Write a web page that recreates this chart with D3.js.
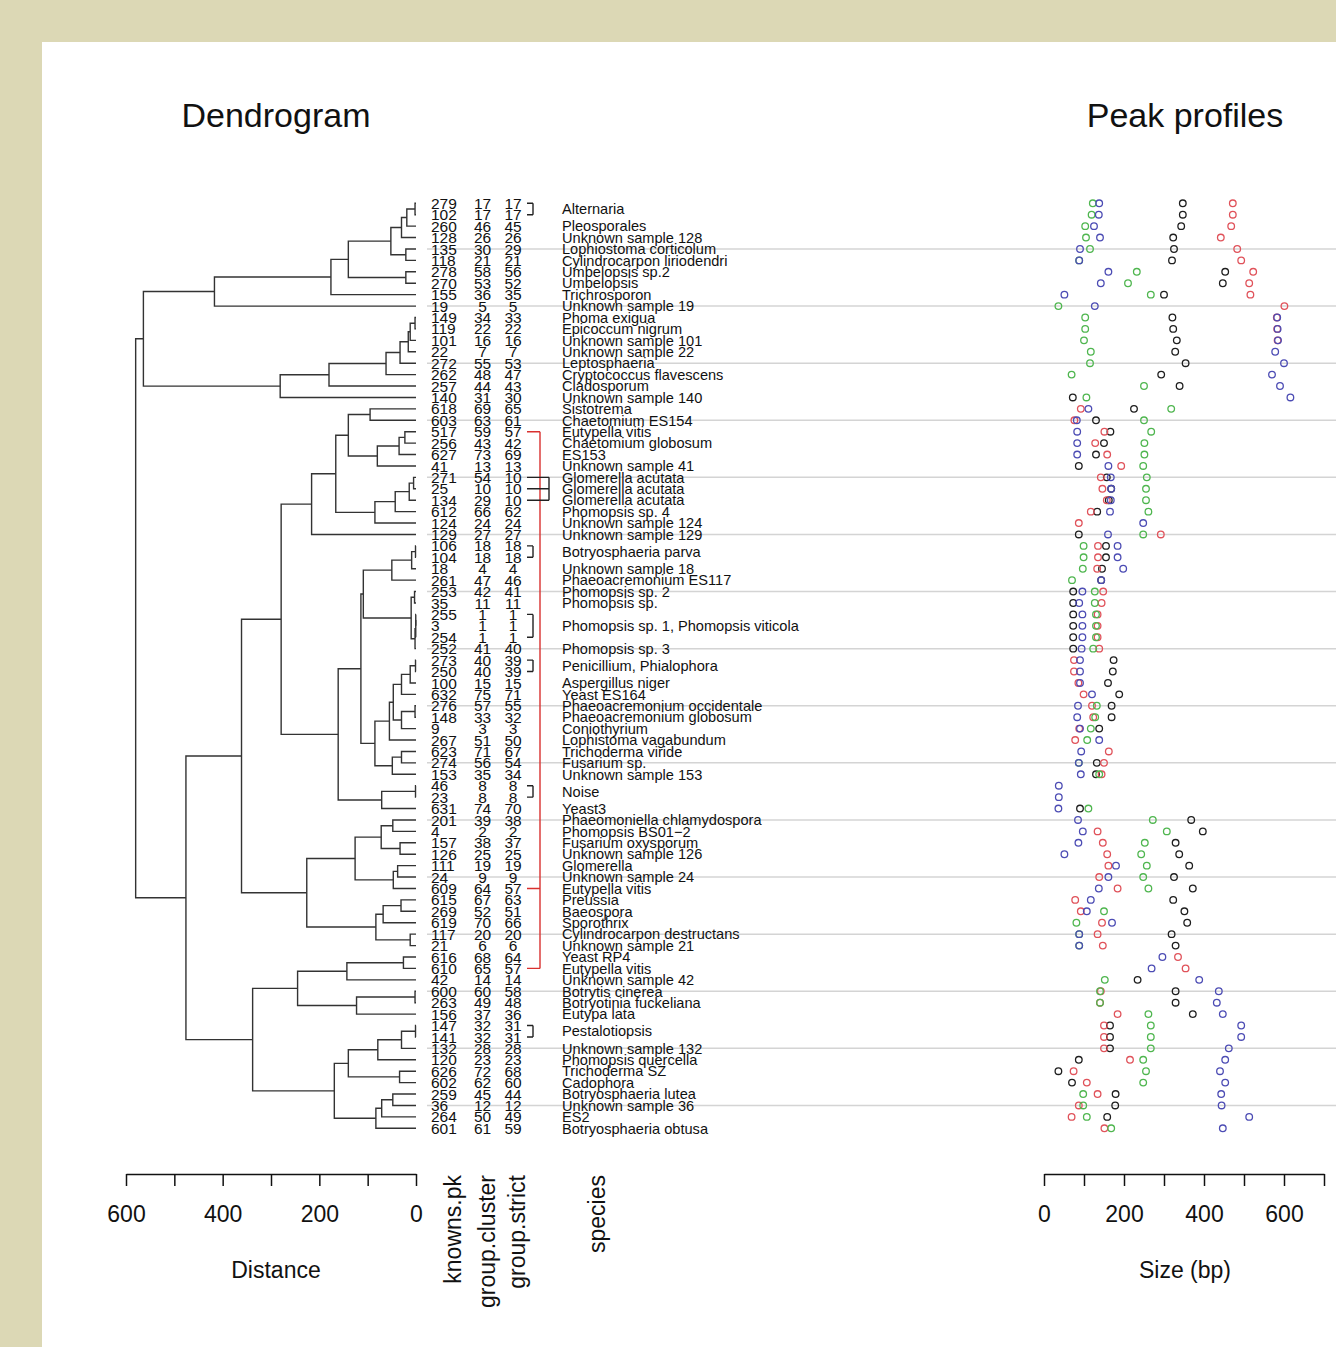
<!DOCTYPE html>
<html lang="en">
<head>
<meta charset="utf-8">
<title>Dendrogram and peak profiles</title>
<script src="https://d3js.org/d3.v7.min.js"></script>
<style>
  body { margin: 0; background: #dcd8b5; }
  svg { display: block; }
  text { font-family: "Liberation Sans", Arial, Helvetica, sans-serif; fill: #111; }
  .num { font-family: "Liberation Sans Narrow", "Arial Narrow", "Liberation Sans", sans-serif; }
</style>
</head>
<body>
<svg id="chart" width="1336" height="1347"></svg>
<script>
// one entry per row, top to bottom
var knownsPk = [279,102,260,128,135,118,278,270,155,19,149,119,101,22,272,262,257,140,618,603,
  517,256,627,41,271,25,134,612,124,129,106,104,18,261,253,35,255,3,254,252,
  273,250,100,632,276,148,9,267,623,274,153,46,23,631,201,4,157,126,111,24,
  609,615,269,619,117,21,616,610,42,600,263,156,147,141,132,120,626,602,259,36,264,601];

var groupCluster = [17,17,46,26,30,21,58,53,36,5,34,22,16,7,55,48,44,31,69,63,
  59,43,73,13,54,10,29,66,24,27,18,18,4,47,42,11,1,1,1,41,
  40,40,15,75,57,33,3,51,71,56,35,8,8,74,39,2,38,25,19,9,
  64,67,52,70,20,6,68,65,14,60,49,37,32,32,28,23,72,62,45,12,50,61];

var groupStrict = [17,17,45,26,29,21,56,52,35,5,33,22,16,7,53,47,43,30,65,61,
  57,42,69,13,10,10,10,62,24,27,18,18,4,46,41,11,1,1,1,40,
  39,39,15,71,55,32,3,50,67,54,34,8,8,70,38,2,37,25,19,9,
  57,63,51,66,20,6,64,57,14,58,48,36,31,31,28,23,68,60,44,12,49,59];

var species = ["Alternaria","Alternaria","Pleosporales","Unknown sample 128","Lophiostoma corticolum",
  "Cylindrocarpon liriodendri","Umbelopsis sp.2","Umbelopsis","Trichrosporon","Unknown sample 19",
  "Phoma exigua","Epicoccum nigrum","Unknown sample 101","Unknown sample 22","Leptosphaeria",
  "Cryptococcus flavescens","Cladosporum","Unknown sample 140","Sistotrema","Chaetomium ES154",
  "Eutypella vitis","Chaetomium globosum","ES153","Unknown sample 41","Glomerella acutata",
  "Glomerella acutata","Glomerella acutata","Phomopsis sp. 4","Unknown sample 124","Unknown sample 129",
  "Botryosphaeria parva","Botryosphaeria parva","Unknown sample 18","Phaeoacremonium ES117","Phomopsis sp. 2",
  "Phomopsis sp.","Phomopsis sp. 1, Phomopsis viticola","Phomopsis sp. 1, Phomopsis viticola",
  "Phomopsis sp. 1, Phomopsis viticola","Phomopsis sp. 3",
  "Penicillium, Phialophora","Penicillium, Phialophora","Aspergillus niger","Yeast ES164","Phaeoacremonium occidentale",
  "Phaeoacremonium globosum","Coniothyrium","Lophistoma vagabundum","Trichoderma viride","Fusarium sp.",
  "Unknown sample 153","Noise","Noise","Yeast3","Phaeomoniella chlamydospora",
  "Phomopsis BS01\u22122","Fusarium oxysporum","Unknown sample 126","Glomerella","Unknown sample 24",
  "Eutypella vitis","Preussia","Baeospora","Sporothrix","Cylindrocarpon destructans",
  "Unknown sample 21","Yeast RP4","Eutypella vitis","Unknown sample 42","Botrytis cinerea",
  "Botryotinia fuckeliana","Eutypa lata","Pestalotiopsis","Pestalotiopsis","Unknown sample 132",
  "Phomopsis quercella","Trichoderma SZ","Cadophora","Botryosphaeria lutea","Unknown sample 36",
  "ES2","Botryosphaeria obtusa"];

// dendrogram: [merge height, left, right], leaves are row numbers
var tree = [580,
  [564,
    [417, [176, [140, [52, [30, [19, [2, 1, 2], 3], 4], [21, 5, 6]], [21, 7, 8]], 9], 10],
    [281, [180, [62, [33, [16, [12, [2, 11, 12], 13], 14], 15], 16], 17], 18]],
  [476,
    [361,
      [279,
        [216, [166, [140, [95, 19, 20], [80, [35, [23, 21, 22], 23], 24]],
                    [85, [43, [14, [5, 25, 26], 27], 28], 29]], 30],
        [161,
          [114,
            [109, [50, [9, [1, 31, 32], 33], 34],
                  [10, [3, 35, 36], [2, [0.5, [0.5, 37, 38], 39], 40]]],
            [85, [55, [47, [30, [12, [1, 41, 42], 43], 44], [30, [2, 45, 46], 47]], 48],
                 [49, [30, 49, 50], 51]]],
          [71, [1, 52, 53], 54]]],
      [226, [126, [72, [48, 55, 56], [33, 57, 58]], [47, [38, 59, 60], 61]],
            [83, [68, [31, 62, 63], 64], [12, 65, 66]]]],
    [338,
      [245, [143, [26, 67, 68], 69], [123, [2, 70, 71], 72]],
      [169, [140, [79, [30, [1, 73, 74], 75], 76], [34, 77, 78]],
            [83, [71, [48, 79, 80], 81], 82]]]]];

// peak sizes (bp) per row, null = no peak
var sizeBlack = [347,347,343,323,325,320,453,447,300,null, 321,323,332,328,354,293,339,72,225,130,
  166,150,130,87,157,168,162,133,null,87, 155,155,145,143,73,73,73,73,73,73,
  174,172,160,188,169,169,138,null,null,132, 130,null,null,90,368,397,329,338,363,325,
  372,323,351,358,319,329,null,null,234,329, 329,372,165,165,165,87,36,70,179,178, 158,null];
var sizeRed = [472,472,468,442,483,493,523,513,516,601, 582,583,584,null,null,null,null,null,92,76,
  151,128,158,193,142,146,157,117,87,292, 135,135,133,null,148,144,134,134,134,138,
  75,75,86,99,120,123,88,78,162,150, 144,null,null,null,null,134,147,158,161,138,
  184,78,92,145,134,147,335,354,null,142, 140,184,150,150,150,215,74,107,134,87, 69,151];
var sizeGreen = [122,119,103,105,115,88,232,210,267,36, 103,103,100,117,115,69,250,106,318,250,
  268,251,251,248,257,255,255,261,null,248, 99,99,97,70,127,127,130,130,130,123,
  null,null,null,null,132,128,117,108,null,87, 138,null,null,111,272,307,252,243,257,248,
  261,null,150,81,88,88,null,null,152,140, 140,261,267,267,267,248,255,248,98,98, 107,168];
var sizeBlue = [138,137,125,140,90,88,161,142,51,127, 583,584,585,578,600,570,590,616,111,82,
  83,83,83,161,167,168,167,165,248,160, 184,184,198,143,96,88,96,96,96,94,
  90,90,90,120,85,83,90,138,93,87, 92,37,37,36,85,97,86,51,180,161,
  137,117,107,170,88,88,296,269,388,437, 432,447,493,493,462,453,440,453,443,444, 513,447];

var distTicks = [600, 500, 400, 300, 200, 100, 0];
var sizeTicks = [0, 100, 200, 300, 400, 500, 600, 700];
var columnHeaders = ["knowns.pk", "group.cluster", "group.strict", "species"];

var W = 1336, H = 1347;
var nRows = knownsPk.length;
var svg = d3.select("#chart");

// white panel inside the beige frame
svg.append("rect").attr("x", 42).attr("y", 42).attr("width", W - 42).attr("height", H - 42).attr("fill", "#fff");

var rowY = d3.scaleLinear().domain([1, nRows]).range([203.3, 1128.3]);
var distX = d3.scaleLinear().domain([600, 0]).range([126, 416]);
var sizeX = d3.scaleLinear().domain([0, 700]).range([1044, 1324]);

// grey guide line every fifth row
svg.append("g").selectAll("line").data(d3.range(5, nRows + 1, 5)).join("line")
  .attr("x1", 427).attr("x2", W)
  .attr("y1", d => rowY(d)).attr("y2", d => rowY(d))
  .attr("stroke", "#d4d4d4").attr("stroke-width", 1.5);

// titles
svg.append("text").attr("x", 276).attr("y", 127).attr("text-anchor", "middle")
  .attr("font-size", 34).text("Dendrogram");
svg.append("text").attr("x", 1185).attr("y", 127).attr("text-anchor", "middle")
  .attr("font-size", 34).text("Peak profiles");

//dendrogram
var root = d3.hierarchy(tree, d => Array.isArray(d) ? d.slice(1) : null);
root.eachAfter(function (node) {
  if (node.children) {
    node.h = node.data[0];
    node.y = d3.mean(node.children, c => c.y);
  } else {
    node.h = 0;
    node.y = rowY(node.data);
  }
  node.x = distX(node.h);
});

svg.append("g").attr("fill", "none").attr("stroke", "#333").attr("stroke-width", 1.4)
  .selectAll("path").data(root.descendants().filter(n => n.children)).join("path")
  .attr("d", function (n) {
    var a = n.children[0], b = n.children[1];
    return "M" + a.x + "," + a.y + "H" + n.x + "V" + b.y + "H" + b.x;
  });

// axes
function styleAxis(g) {
  g.select(".domain").attr("stroke", "#111").attr("stroke-width", 1.5);
  g.selectAll(".tick line").attr("stroke", "#111").attr("stroke-width", 1.5);
  g.selectAll(".tick text").attr("font-size", 23).attr("font-family", "Liberation Sans, Arial, sans-serif").attr("fill", "#111");
}
svg.append("g").attr("transform", "translate(0,1174)")
  .call(d3.axisBottom(distX).tickValues(distTicks).tickFormat(d => d % 200 === 0 ? d : "")
    .tickSize(12).tickSizeOuter(0).tickPadding(20))
  .call(styleAxis);
svg.append("g").attr("transform", "translate(0,1174)")
  .call(d3.axisBottom(sizeX).tickValues(sizeTicks).tickFormat(d => d % 200 === 0 ? d : "")
    .tickSize(12).tickSizeOuter(0).tickPadding(20))
  .call(styleAxis);

svg.append("text").attr("x", 276).attr("y", 1278).attr("text-anchor", "middle").attr("font-size", 23).text("Distance");
svg.append("text").attr("x", 1185).attr("y", 1278).attr("text-anchor", "middle").attr("font-size", 23).text("Size (bp)");

// rotated column headers
var headerX = [453, 487, 517, 597];
svg.append("g").selectAll("text").data(columnHeaders).join("text")
  .attr("transform", (d, i) => "translate(" + headerX[i] + ",1175) rotate(-90)")
  .attr("text-anchor", "end").attr("dy", "0.35em").attr("font-size", 23)
  .text(d => d);

// number columns
function numberColumn(values, x, anchor) {
  svg.append("g").attr("class", "num").attr("font-size", 15.5).selectAll("text").data(values).join("text")
    .attr("x", x).attr("y", (d, i) => rowY(i + 1))
    .attr("text-anchor", anchor).attr("dy", "0.36em")
    .text(d => d);
}
numberColumn(knownsPk, 431, "start");
numberColumn(groupCluster, 482.5, "middle");
numberColumn(groupStrict, 513, "middle");

// species labels, rows with identical groups share one label
var labelGroups = [];
for (var i = 0; i < nRows; i++) {
  var last = labelGroups[labelGroups.length - 1];
  if (last && last.end === i - 1 && groupCluster[i] === groupCluster[last.end] && groupStrict[i] === groupStrict[last.end]) {
    last.end = i;
  } else {
    labelGroups.push({ start: i, end: i });
  }
}
svg.append("g").attr("font-size", 14.6).selectAll("text").data(labelGroups).join("text")
  .attr("x", 562).attr("y", d => (rowY(d.start + 1) + rowY(d.end + 1)) / 2)
  .attr("dy", "0.36em")
  .text(d => species[d.start]);

// brackets joining rows with the same strict group
var strictRows = d3.groups(d3.range(nRows), i => groupStrict[i]).filter(g => g[1].length > 1);
var brackets = strictRows.map(function (g) {
  var rows = g[1];
  var contiguous = rows[rows.length - 1] - rows[0] === rows.length - 1;
  var sameCluster = rows.every(r => groupCluster[r] === groupCluster[rows[0]]);
  var kind = !contiguous ? "split" : (sameCluster ? "same" : "mixed");
  return { rows: rows, kind: kind };
});
var bracketRight = { same: 533, mixed: 549, split: 540 };
svg.append("g").attr("fill", "none").attr("stroke-width", 1.4)
  .selectAll("path").data(brackets).join("path")
  .attr("stroke", d => d.kind === "split" ? "#d9312f" : "#222")
  .attr("d", function (d) {
    var xr = bracketRight[d.kind];
    var ys = d.rows.map(r => rowY(r + 1));
    var p = "M" + xr + "," + ys[0] + "V" + ys[ys.length - 1];
    if (d.kind === "same") {
      p += "M527," + ys[0] + "H" + xr + "M527," + ys[ys.length - 1] + "H" + xr;
    } else {
      ys.forEach(function (y) { p += "M527," + y + "H" + xr; });
    }
    return p;
  });

// peak profiles
var series = [
  { values: sizeBlack, color: "#1e1e1e" },
  { values: sizeRed, color: "#e0525a" },
  { values: sizeGreen, color: "#4fb64f" },
  { values: sizeBlue, color: "#4c4cb4" }
];
var peaks = svg.append("g").attr("fill", "none").attr("stroke-width", 1.3);
series.forEach(function (s) {
  var pts = s.values.map((v, i) => ({ v: v, row: i + 1 })).filter(p => p.v !== null);
  peaks.append("g").attr("stroke", s.color).selectAll("circle").data(pts).join("circle")
    .attr("cx", p => sizeX(p.v)).attr("cy", p => rowY(p.row)).attr("r", 3.3);
});
</script>
</body>
</html>
